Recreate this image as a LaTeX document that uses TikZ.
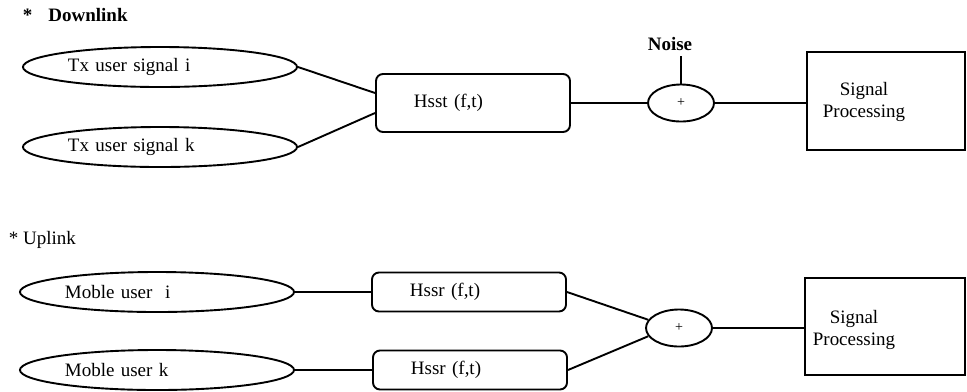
\documentclass[tikz,border=0pt]{standalone}
\usepackage{fontspec}
\setmainfont{Liberation Serif}
\usetikzlibrary{shapes.geometric}

\tikzset{
  userell/.style={draw, ellipse, line width=1.35pt, minimum width=6.85cm, minimum height=1cm, inner xsep=0.12cm, text width=4.6cm, align=left},
  chanbox/.style={draw, rectangle, rounded corners=5pt, line width=1.35pt, inner xsep=0.95cm, text width=2.95cm, align=left},
  sumell/.style={draw, ellipse, line width=1.35pt, minimum width=1.65cm, minimum height=0.925cm, inner sep=0pt, font=\fontsize{10}{11}\selectfont},
  procbox/.style={draw, rectangle, line width=1.35pt},
  wire/.style={line width=1.35pt}
}

\begin{document}
\begin{tikzpicture}[x=0.025cm, y=-0.025cm, font=\fontsize{13.5}{15.6}\selectfont]
\useasboundingbox (0,0) rectangle (967,391);
% Downlink
\node[anchor=west] (dltitle) at (18,15) {\textbf{*}\hspace{0.4cm}\textbf{Downlink}};
\node[userell] (txi) at (160,67) {Tx user signal i};
\node[userell] (txk) at (160,147) {Tx user signal k};
\node[chanbox, minimum height=1.45cm] (hsst) at (473,103) {Hsst (f,t)};
\node[sumell] (sumdl) at (681,103) {+};
\node[font=\fontsize{13.5}{15.6}\selectfont\bfseries] (noise) at (670,44) {Noise};
\node[procbox, minimum width=3.95cm, minimum height=2.45cm] (procdl) at (886,101) {};
\node[align=center] (procdltxt) at (864,102) {Signal\\Processing};
\draw[wire] (txi.east) -- ([yshift=0.25cm]hsst.west);
\draw[wire] (txk.east) -- ([yshift=-0.25cm]hsst.west);
\draw[wire] (hsst.east) -- (sumdl.west);
\draw[wire] (sumdl.east) -- (procdl.west |- sumdl.east);
\draw[wire] (sumdl.north) -- (sumdl.north |- noise.south);
% Uplink
\node[anchor=west] (ultitle) at (4,240) {* Uplink};
\node[userell] (mui) at (157,292) {Moble user~ i};
\node[userell] (muk) at (157,370) {Moble user k};
\node[chanbox, minimum height=0.975cm] (hssri) at (469,292) {Hssr (f,t)};
\node[chanbox, minimum height=0.975cm] (hssrk) at (470,370) {Hssr (f,t)};
\node[sumell] (sumul) at (679,328) {+};
\node[procbox, minimum width=4.02cm, minimum height=2.425cm] (procul) at (885,326.5) {};
\node[align=center] (procultxt) at (854,330) {Signal\\Processing};
\draw[wire] (mui.east) -- (hssri.west);
\draw[wire] (muk.east) -- (hssrk.west);
\draw[wire] (hssri.east) -- (sumul.165);
\draw[wire] (hssrk.east) -- (sumul.195);
\draw[wire] (sumul.east) -- (procul.west |- sumul.east);
\end{tikzpicture}
\end{document}
